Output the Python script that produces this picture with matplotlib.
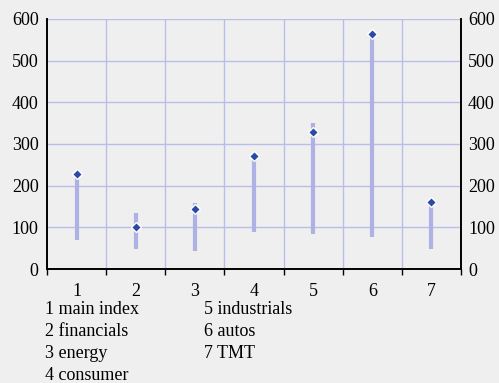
import matplotlib
matplotlib.use("Agg")
import matplotlib.pyplot as plt
import numpy as np

categories = ["1", "2", "3", "4", "5", "6", "7"]
legend_labels = ["1 main index", "2 financials", "3 energy", "4 consumer",
                 "5 industrials", "6 autos", "7 TMT"]
low = [70, 49, 43, 90, 84, 76, 48]
high = [230, 135, 158, 271, 350, 564, 160]
close = [227, 101, 143, 271, 328, 564, 160]
yticks = [0, 100, 200, 300, 400, 500, 600]

plt.rcParams['font.family'] = ['Liberation Serif', 'DejaVu Serif']
bg = '#efefef'
fs = 13
fig = plt.figure(figsize=(4.99, 3.83), dpi=100, facecolor=bg)
ax = fig.add_axes([47/499, 1-269/383, (461-47)/499, 250/383])
ax.set_facecolor(bg)

x = np.arange(1, len(categories)+1)
ax.set_xlim(0.5, len(categories)+0.5)
ax.set_ylim(0, 600)

grid_c = '#b9bde9'
for yv in yticks[1:]:
    ax.axhline(yv, color=grid_c, lw=1, zorder=1)
for xv in np.arange(1.5, len(categories), 1):
    ax.axvline(xv, color=grid_c, lw=1, zorder=1)

ax.vlines(x, low, high, color='#adb1e3', lw=3, zorder=2)
ax.plot(x, close, 'D', ms=5.5, mfc='#2b4aa6', mec='white', mew=1, zorder=3, ls='none')

ax.set_yticks(yticks)
ax.tick_params(axis='y', length=0, labelsize=fs, pad=6)
ax.set_xticks(x)
ax.set_xticklabels(categories)
ax.set_xticks(np.arange(0.5, len(categories)+1, 1), minor=True)
ax.tick_params(axis='x', which='major', length=0, labelsize=fs, pad=10)
ax.tick_params(axis='x', which='minor', length=4, direction='out', width=1, color='black')

ax2 = ax.twinx()
ax2.set_ylim(0, 600)
ax2.set_yticks(yticks)
ax2.tick_params(axis='y', length=0, labelsize=fs, pad=5)

for a in (ax, ax2):
    a.spines['top'].set_visible(False)
    for s in ['left', 'right', 'bottom']:
        a.spines[s].set_color('black')
        a.spines[s].set_linewidth(1.2)

col_x = [45/499, 204/499]
row_y = [310, 332, 354, 376]
for i, lab in enumerate(legend_labels):
    c = 0 if i < 4 else 1
    r = i if i < 4 else i - 4
    fig.text(col_x[c], 1 - row_y[r]/383, lab, fontsize=fs, va='center', ha='left')

fig.savefig('out.png', dpi=100, facecolor=bg)
